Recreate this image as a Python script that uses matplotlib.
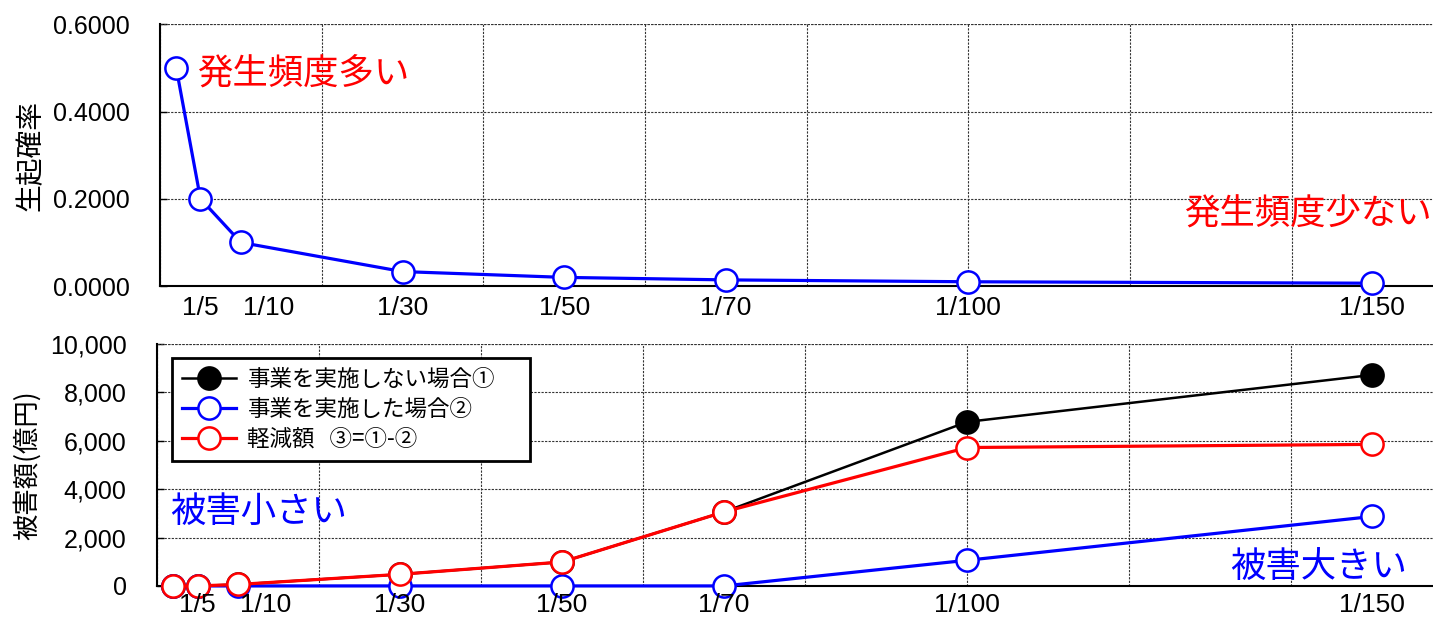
import numpy as np
import matplotlib
matplotlib.use("Agg")
import matplotlib.pyplot as plt
import matplotlib.transforms as mtransforms
from matplotlib.ticker import FuncFormatter, MultipleLocator, NullFormatter

plt.rcParams['font.family'] = ['Noto Sans CJK JP', 'DejaVu Sans']

# 確率年 (年) と生起確率
kakuritsu_nen = [2, 5, 10, 30, 50, 70, 100, 150]
seiki_kakuritsu = [1 / 2, 1 / 5, 1 / 10, 1 / 30, 1 / 50, 1 / 70, 1 / 100, 1 / 150]
ticks_nen = [5, 10, 30, 50, 70, 100, 150]
ticks_label = ['1/5', '1/10', '1/30', '1/50', '1/70', '1/100', '1/150']

# 被害額 (億円)
higai_nashi = [0, 0, 60, 480, 990, 3060, 6780, 8720]
higai_ari = [0, 0, 0, 0, 0, 0, 1060, 2870]
keigen = [0, 0, 60, 480, 990, 3060, 5720, 5850]

X_MAX = 157.5
GRID = dict(color='#333333', linestyle=(0, (2, 1.2)), linewidth=0.8)


def setup_axis(ax, label_dy):
    ax.set_xlim(0, X_MAX)
    ax.xaxis.set_major_locator(MultipleLocator(20))
    ax.xaxis.set_major_formatter(NullFormatter())
    ax.tick_params(axis='x', which='both', length=0)
    ax.tick_params(axis='y', direction='in', length=5, width=1, labelsize=18, pad=22)
    ax.grid(True, which='major', **GRID)
    ax.spines['top'].set_visible(False)
    ax.spines['right'].set_visible(False)
    for s in ('left', 'bottom'):
        ax.spines[s].set_linewidth(1.5)
    for lab in ax.get_yticklabels():
        lab.set_fontfamily(['Liberation Sans', 'DejaVu Sans'])
    # 確率年ラベル (1/10 は 1/5 と重ならないよう右へずらす)
    for nen, lab in zip(ticks_nen, ticks_label):
        dx = 20 if nen == 10 else 0
        tr = mtransforms.offset_copy(ax.get_xaxis_transform(), fig=fig,
                                     x=dx, y=-label_dy, units='points')
        ax.text(nen, 0, lab, transform=tr, ha='center', va='center',
                fontsize=19, family=['Liberation Sans', 'DejaVu Sans'])


fig = plt.figure(figsize=(14.33, 6.22), dpi=100)
ax1 = fig.add_axes([0.1117, 0.540, 0.8883, 0.421])
ax2 = fig.add_axes([0.1096, 0.058, 0.8904, 0.389])

# 上段: 生起確率
ax1.plot(kakuritsu_nen, seiki_kakuritsu, color='#0000ff', lw=2.3, marker='o',
         ms=16, mfc='white', mec='#0000ff', mew=1.8, zorder=3, clip_on=False)
ax1.set_ylim(0, 0.6)
ax1.yaxis.set_major_locator(MultipleLocator(0.2))
ax1.yaxis.set_major_formatter(FuncFormatter(lambda v, p: f'{v:.4f}'))
setup_axis(ax1, 16)
ax1.axhline(0.6, **GRID)
ax1.set_ylabel('生起確率', fontsize=20, labelpad=5)
ax1.text(4.6, 0.488, '発生頻度多い', color='red', fontsize=25.5, va='center', ha='left')
ax1.text(157.3, 0.163, '発生頻度少ない', color='red', fontsize=25.5, va='center', ha='right')

# 下段: 被害額
ax2.plot(kakuritsu_nen, higai_nashi, color='black', lw=1.8, marker='o', ms=16,
         mfc='black', mec='black', mew=1.8, zorder=3, clip_on=False,
         label='事業を実施しない場合①')
ax2.plot(kakuritsu_nen, higai_ari, color='#0000ff', lw=2.3, marker='o', ms=16,
         mfc='white', mec='#0000ff', mew=1.8, zorder=3, clip_on=False,
         label='事業を実施した場合②')
ax2.plot(kakuritsu_nen, keigen, color='#ff0000', lw=2.3, marker='o', ms=16,
         mfc='white', mec='#ff0000', mew=1.8, zorder=3, clip_on=False,
         label='軽減額   ③=①-②')
ax2.set_ylim(0, 10000)
ax2.yaxis.set_major_locator(MultipleLocator(2000))
ax2.yaxis.set_major_formatter(FuncFormatter(lambda v, p: f'{int(v):,}'))
setup_axis(ax2, 14)
ax2.axhline(10000, **GRID)
ax2.set_ylabel('被害額(億円)', fontsize=19, labelpad=6)
ax2.text(1.6, 3060, '被害小さい', color='#0000ff', fontsize=25.5, va='center', ha='left')
ax2.text(154.3, 740, '被害大きい', color='#0000ff', fontsize=25.5, va='center', ha='right')

leg = ax2.legend(loc='upper left', bbox_to_anchor=(0.0118, 0.5, 0.2806, 0.442),
                 mode='expand', fontsize=16.2,
                 handlelength=2.4, fancybox=False, framealpha=1, edgecolor='black',
                 borderpad=0.45, labelspacing=0.3, handletextpad=0.5, borderaxespad=0)
leg.get_frame().set_linewidth(2)
leg.set_zorder(5)

fig.savefig('out.png', dpi=100)
